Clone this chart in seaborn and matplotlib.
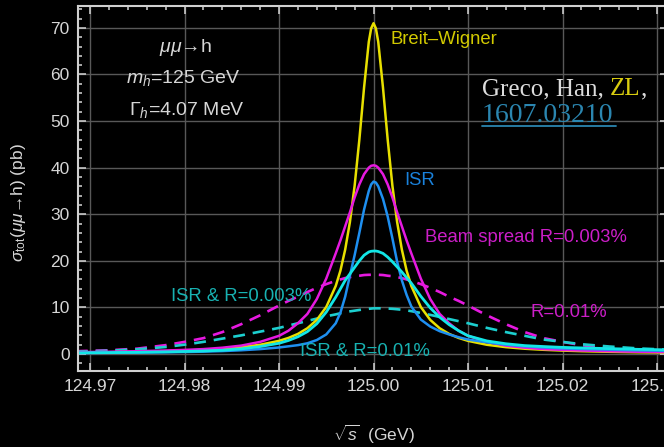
import numpy as np
import pandas as pd
import seaborn as sns
import matplotlib.pyplot as plt
from matplotlib.ticker import MultipleLocator, FormatStrFormatter
from matplotlib.lines import Line2D
from matplotlib.transforms import offset_copy

# offsets from 125 GeV, in MeV
offset_mev = [-31.5, -28, -25, -22, -20, -18, -16, -14, -12, -10, -9, -8, -7, -6, -5, -4,
              -3.5, -3, -2.5, -2, -1.5, -1, -0.5, -0.25, 0, 0.25, 0.5, 1, 1.5, 2, 2.5, 3,
              3.5, 4, 5, 6, 7, 8, 9, 10, 12, 14, 16, 18, 20, 22, 25, 28, 31.5]

breit_wigner = [0.30, 0.37, 0.47, 0.60, 0.73, 0.90, 1.13, 1.47, 1.98, 2.82, 3.45, 4.31,
                5.53, 7.32, 10.1, 14.6, 17.9, 22.4, 28.3, 36.1, 46.0, 57.2, 67.0, 69.9,
                71.0,
                69.9, 67.0, 57.2, 46.0, 36.1, 28.3, 22.4, 17.9, 14.6, 10.1, 7.32, 5.53,
                4.31, 3.45, 2.82, 1.98, 1.47, 1.13, 0.90, 0.73, 0.60, 0.47, 0.37, 0.30]

beam_003 = [0.40, 0.48, 0.60, 0.75, 0.88, 1.05, 1.35, 1.80, 2.60, 3.90, 5.00, 6.60,
            8.60, 11.8, 16.2, 21.6, 24.4, 27.4, 30.4, 33.6, 36.4, 38.6, 40.0, 40.4,
            40.5,
            40.4, 40.0, 38.6, 36.4, 33.6, 30.4, 27.4, 24.4, 21.6, 16.2, 11.8, 8.60,
            6.60, 5.00, 3.90, 2.60, 1.80, 1.35, 1.05, 0.88, 0.75, 0.60, 0.48, 0.40]

isr = [0.20, 0.25, 0.30, 0.36, 0.42, 0.50, 0.62, 0.80, 1.05, 1.40, 1.65, 1.90,
       2.30, 3.00, 4.20, 6.60, 8.90, 12.3, 16.8, 21.2, 26.0, 31.0, 35.0, 36.4,
       37.0,
       36.8, 36.0, 33.3, 29.5, 24.8, 19.8, 15.8, 12.7, 10.2, 7.40, 5.90, 4.90,
       4.20, 3.60, 3.10, 2.50, 2.00, 1.65, 1.40, 1.20, 1.08, 0.92, 0.78, 0.65]

isr_beam_003 = [0.25, 0.30, 0.36, 0.46, 0.54, 0.65, 0.80, 1.10, 1.60, 2.30, 2.90, 3.70,
                4.80, 6.50, 9.00, 12.2, 14.0, 15.8, 17.2, 18.6, 20.0, 21.2, 21.9, 22.05,
                22.1,
                22.1, 22.0, 21.6, 20.8, 19.8, 18.7, 17.6, 16.4, 15.2, 12.4, 9.90, 7.90,
                6.30, 5.00, 3.90, 2.80, 2.20, 1.80, 1.60, 1.42, 1.30, 1.15, 1.00, 0.88]

beam_001 = [0.60, 0.80, 1.15, 1.90, 2.60, 3.40, 4.70, 6.40, 8.30, 10.4, 11.4, 12.3,
            13.3, 14.2, 15.0, 15.7, 16.0, 16.3, 16.5, 16.7, 16.8, 16.95, 17.0, 17.0,
            17.0,
            17.0, 17.0, 16.95, 16.8, 16.7, 16.5, 16.3, 16.0, 15.7, 15.0, 14.2, 13.3,
            12.3, 11.4, 10.4, 8.30, 6.40, 4.70, 3.40, 2.60, 1.90, 1.15, 0.80, 0.60]

isr_beam_001 = [0.50, 0.70, 1.00, 1.50, 2.00, 2.60, 3.30, 4.00, 4.80, 5.60, 6.10, 6.60,
                7.10, 7.60, 8.10, 8.50, 8.75, 8.95, 9.15, 9.30, 9.45, 9.60, 9.70, 9.75,
                9.80,
                9.80, 9.80, 9.80, 9.75, 9.70, 9.60, 9.50, 9.35, 9.20, 8.80, 8.40, 7.95,
                7.50, 7.05, 6.60, 5.60, 4.70, 3.90, 3.10, 2.60, 2.10, 1.60, 1.20, 0.90]

sqrt_s = [125 + d / 1000 for d in offset_mev]

fg = "#d6d6d6"
sns.set_theme(style="ticks", rc={"figure.facecolor": "black", "axes.facecolor": "black",
                                 "savefig.facecolor": "black"})
plt.rcParams["font.family"] = ["Liberation Sans", "DejaVu Sans"]
plt.rcParams["mathtext.fontset"] = "custom"
plt.rcParams["mathtext.rm"] = "Liberation Sans"
plt.rcParams["mathtext.it"] = "Liberation Sans:italic"
plt.rcParams["mathtext.bf"] = "Liberation Sans:bold"

fig = plt.figure(figsize=(6.64, 4.47), dpi=100)
ax = fig.add_axes([78 / 664, 76 / 447, 590 / 664, 365 / 447])

magenta = "#e619e0"
cyan = "#12e6e6"
sns.lineplot(x=sqrt_s, y=beam_001, color=magenta, lw=1.9, linestyle=(0, (4.5, 3)), ax=ax)
sns.lineplot(x=sqrt_s, y=isr_beam_001, color="#1ccfcf", lw=1.9, linestyle=(0, (4.5, 3)), ax=ax)
sns.lineplot(x=sqrt_s, y=breit_wigner, color="#e8e000", lw=1.8, ax=ax)
sns.lineplot(x=sqrt_s, y=beam_003, color=magenta, lw=1.8, ax=ax)
sns.lineplot(x=sqrt_s, y=isr, color="#1e8ff0", lw=1.8, ax=ax)
sns.lineplot(x=sqrt_s, y=isr_beam_003, color=cyan, lw=2.0, ax=ax)

ax.set_xlim(124.96873, 125.03116)
ax.set_ylim(-3.65, 74.7)
ax.xaxis.set_major_locator(MultipleLocator(0.01))
ax.xaxis.set_minor_locator(MultipleLocator(0.002))
ax.xaxis.set_major_formatter(FormatStrFormatter("%.2f"))
ax.yaxis.set_major_locator(MultipleLocator(10))
ax.yaxis.set_minor_locator(MultipleLocator(2))
ax.grid(True, which="major", color="#585858", lw=1.0)
ax.tick_params(which="both", direction="in", top=True, right=True, colors=fg,
               labelsize=12.5, width=1.1)
ax.tick_params(which="major", length=6, pad=6)
ax.tick_params(which="minor", length=3)
for s in ax.spines.values():
    s.set_color("#d0d0d0")
    s.set_linewidth(1.5)

ax.set_xlabel(r"$\sqrt{s}$  (GeV)", color=fg, fontsize=12.5)
ax.xaxis.set_label_coords(0.5008, -0.142)
ax.set_ylabel(r"$\sigma_{\rm tot}$($\mu\mu$→h) (pb)", color=fg, fontsize=12.5)
ax.yaxis.set_label_coords(-0.085, 0.46)

# curve labels
lab = dict(fontsize=13.3, va="center", ha="left")
ax.text(125.00175, 67.6, "Breit–Wigner", color="#d2ca00", **lab)
ax.text(125.00323, 37.3, "ISR", color="#1a82dc", **lab)
ax.text(125.00545, 24.9, "Beam spread R=0.003%", color="#cc1ec8", **lab)
ax.text(125.01656, 9.0, "R=0.01%", color="#cc1ec8", **lab)
ax.text(124.97857, 12.4, "ISR & R=0.003%", color="#18b2b2", **lab)
ax.text(124.99220, 0.5, "ISR & R=0.01%", color="#18b2b2", **lab)

# parameter text
par = dict(fontsize=14, color=fg, ha="center", va="center")
fig.text(185 / 664, 1 - 48 / 447, r"$\mu\mu$→h", **par)
fig.text(183 / 664, 1 - 78 / 447, r"$m_h$=125 GeV", **par)
fig.text(187 / 664, 1 - 110 / 447, r"$\Gamma_h$=4.07 MeV", **par)

# reference, pieces placed one after another
ser = dict(fontsize=18, family="Liberation Serif", va="baseline", ha="left")
t1 = fig.text(482 / 664, 1 - 95 / 447, "Greco, Han, ", color="#dcdcdc", **ser)
fig.canvas.draw()
r = fig.canvas.get_renderer()
w1 = t1.get_window_extent(r).width
t2 = fig.text(482 / 664, 1 - 95 / 447, "ZL", color="#d8cc10",
              transform=offset_copy(fig.transFigure, fig=fig, x=w1, y=0, units="dots"), **ser)
w2 = t2.get_window_extent(r).width
fig.text(482 / 664, 1 - 95 / 447, ",", color="#dcdcdc",
         transform=offset_copy(fig.transFigure, fig=fig, x=w1 + w2, y=0, units="dots"), **ser)
fig.text(482 / 664, 1 - 122 / 447, "1607.03210", color="#2b86b0",
         fontsize=20, family="Liberation Serif", va="baseline", ha="left")
fig.add_artist(Line2D([482 / 664, 616 / 664], [1 - 126 / 447, 1 - 126 / 447],
                      color="#2b86b0", lw=1.3, transform=fig.transFigure))

fig.savefig("out.png", dpi=100, facecolor="black")
